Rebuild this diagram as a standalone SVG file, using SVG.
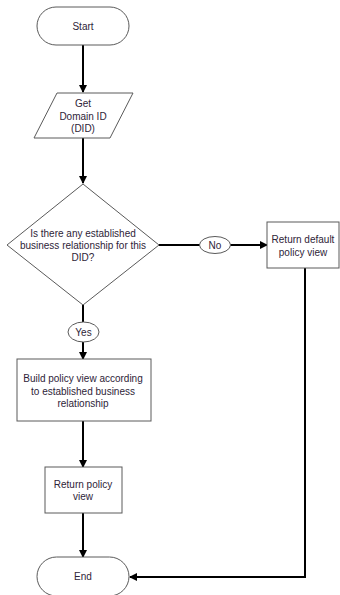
<svg xmlns="http://www.w3.org/2000/svg" width="340" height="595" viewBox="0 0 340 595">
<style>
.s{fill:#fff;stroke:#5a5a5a;stroke-width:1}
.t{font-family:"Liberation Sans",Arial,sans-serif;font-size:10px;fill:#2e2438;text-anchor:middle}
.c{fill:none;stroke:#000;stroke-width:2}
</style>
<defs>
<marker id="a" markerWidth="8" markerHeight="8" refX="7" refY="4" orient="auto" markerUnits="userSpaceOnUse">
<path d="M0,0 L8,4 L0,8 Z" fill="#000"/>
</marker>
</defs>
<rect width="340" height="595" fill="#fff"/>
<g id="connectors">
<line class="c" x1="83" y1="45" x2="83" y2="92" marker-end="url(#a)"/>
<line class="c" x1="83" y1="138" x2="83" y2="183" marker-end="url(#a)"/>
<line class="c" x1="159" y1="245" x2="200" y2="245"/>
<line class="c" x1="230" y1="245" x2="267" y2="245" marker-end="url(#a)"/>
<line class="c" x1="83" y1="305" x2="83" y2="322"/>
<line class="c" x1="83" y1="342" x2="83" y2="359" marker-end="url(#a)"/>
<line class="c" x1="83" y1="421" x2="83" y2="467" marker-end="url(#a)"/>
<line class="c" x1="83" y1="513" x2="83" y2="557" marker-end="url(#a)"/>
<polyline class="c" points="305,268 305,577 130,577" marker-end="url(#a)"/>
</g>
<g id="start">
<rect class="s" x="37" y="7" width="92" height="38" rx="19"/>
<text class="t" x="83" y="29.5">Start</text>
</g>
<g id="get-did">
<polygon class="s" points="57,93 133,93 110,138 34,138"/>
<text class="t" x="83" y="107">Get</text>
<text class="t" x="83" y="120">Domain ID</text>
<text class="t" x="83" y="132">(DID)</text>
</g>
<g id="decision">
<polygon class="s" points="83,184 159,245 83,305 7,245"/>
<text class="t" x="83" y="237">Is there any established</text>
<text class="t" x="83" y="249">business relationship for this</text>
<text class="t" x="83" y="261">DID?</text>
</g>
<g id="no">
<ellipse class="s" cx="215" cy="245" rx="15.5" ry="8.5"/>
<text class="t" x="215" y="248.5">No</text>
</g>
<g id="return-default">
<rect class="s" x="267" y="222" width="72" height="46"/>
<text class="t" x="303" y="243">Return default</text>
<text class="t" x="303" y="256">policy view</text>
</g>
<g id="yes">
<ellipse class="s" cx="83.5" cy="332" rx="15.5" ry="10"/>
<text class="t" x="83.5" y="335.5">Yes</text>
</g>
<g id="build">
<rect class="s" x="17" y="359" width="134" height="62"/>
<text class="t" x="83" y="382">Build policy view according</text>
<text class="t" x="83" y="394.5">to established business</text>
<text class="t" x="83" y="406.5">relationship</text>
</g>
<g id="return-policy">
<rect class="s" x="45" y="467" width="77" height="46"/>
<text class="t" x="83" y="488">Return policy</text>
<text class="t" x="83" y="500">view</text>
</g>
<g id="end">
<rect class="s" x="37" y="557" width="92" height="39" rx="19.5"/>
<text class="t" x="83" y="579.5">End</text>
</g>
</svg>
